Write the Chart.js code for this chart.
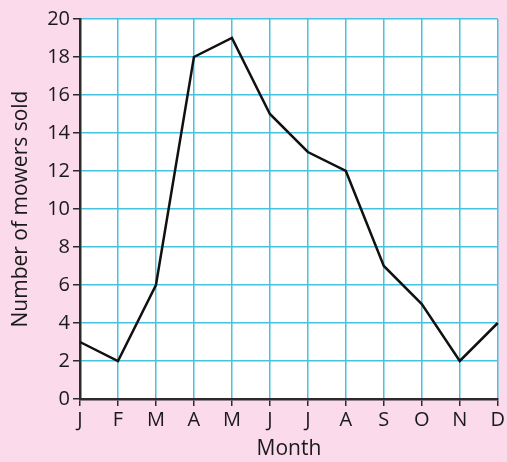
<!DOCTYPE html>
<html>
<head>
<meta charset="utf-8">
<script src="https://cdn.jsdelivr.net/npm/chart.js@4/dist/chart.umd.min.js"></script>
<style>
  html, body { margin: 0; padding: 0; background: #fbdaec; }
  #wrap { width: 507px; height: 462px; }
</style>
</head>
<body>
<div id="wrap"><canvas id="chart" width="507" height="462"></canvas></div>
<script>
const months = ['J', 'F', 'M', 'A', 'M', 'J', 'J', 'A', 'S', 'O', 'N', 'D'];
const mowersSold = [3, 2, 6, 18, 19, 15, 13, 12, 7, 5, 2, 4];
const yTicks = [0, 2, 4, 6, 8, 10, 12, 14, 16, 18, 20];

const FONT = 'Open Sans, Lato, sans-serif';
const GRID = '#45c4df';
const AXIS = '#2b2b2b';

const plotBackground = {
  id: 'plotBackground',
  beforeDraw(chart) {
    const { ctx, chartArea } = chart;
    ctx.save();
    ctx.fillStyle = '#fbdaec';
    ctx.fillRect(0, 0, chart.width, chart.height);
    ctx.fillStyle = '#ffffff';
    ctx.fillRect(chartArea.left, chartArea.top, chartArea.right - chartArea.left, chartArea.bottom - chartArea.top);
    ctx.restore();
  },
};

new Chart(document.getElementById('chart'), {
  type: 'line',
  data: {
    labels: months,
    datasets: [{
      data: mowersSold,
      borderColor: '#111111',
      borderWidth: 2.5,
      pointRadius: 0,
      tension: 0,
      fill: false,
    }],
  },
  plugins: [plotBackground],
  options: {
    responsive: false,
    animation: false,
    layout: { padding: { top: 19, right: 9, bottom: 0, left: 0 } },
    plugins: { legend: { display: false }, tooltip: { enabled: false } },
    scales: {
      x: {
        offset: false,
        afterFit(scale) { scale.height = 63; },
        grid: { color: GRID, lineWidth: 1.5, tickColor: AXIS, tickLength: 7, tickWidth: 1.5 },
        border: { color: AXIS, width: 2.5 },
        ticks: { color: '#1a1a1a', font: { family: FONT, size: 20 }, padding: 2, maxRotation: 0, autoSkip: false },
        title: { display: true, text: 'Month', color: '#1a1a1a', font: { family: FONT, size: 21 }, padding: { top: 0, bottom: 0 } },
      },
      y: {
        min: 0,
        max: 20,
        afterFit(scale) { scale.width = 80; },
        afterBuildTicks(scale) { scale.ticks = yTicks.map((v) => ({ value: v })); },
        grid: { color: GRID, lineWidth: 1.5, tickColor: AXIS, tickLength: 7, tickWidth: 1.5 },
        border: { color: AXIS, width: 2.5 },
        ticks: { color: '#1a1a1a', font: { family: FONT, size: 20 }, padding: 3 },
        title: { display: true, text: 'Number of mowers sold', color: '#1a1a1a', font: { family: FONT, size: 21 }, padding: { top: 8, bottom: 2 } },
      },
    },
  },
});
</script>
</body>
</html>
